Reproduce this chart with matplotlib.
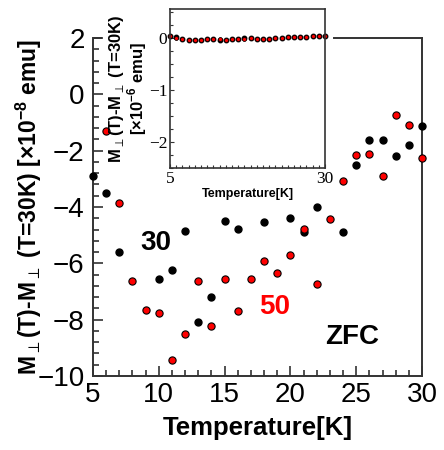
import matplotlib
matplotlib.use('Agg')
import matplotlib.pyplot as plt
from matplotlib.ticker import MultipleLocator, FixedLocator

plt.rcParams['font.family'] = ['Liberation Sans', 'DejaVu Sans']
plt.rcParams['mathtext.fontset'] = 'custom'
plt.rcParams['mathtext.rm'] = 'Liberation Sans:bold'
plt.rcParams['mathtext.bf'] = 'Liberation Sans:bold'
plt.rcParams['mathtext.fallback'] = 'stixsans'

# main panel data (x10^-8 emu)
t_30 = [5, 6, 7, 10, 11, 12, 13, 14, 15, 16, 18, 20, 21, 22, 24, 25, 26, 27, 28, 29, 30]
m_30 = [-2.89, -3.50, -5.61, -6.56, -6.25, -4.85, -8.10, -7.20, -4.50, -4.77, -4.55,
        -4.38, -4.88, -3.99, -4.90, -2.50, -1.61, -1.61, -2.20, -1.79, -1.12]

t_50 = [6, 7, 8, 9, 10, 11, 12, 13, 14, 15, 16, 17, 18, 19, 20, 21, 22, 23, 24, 25,
        26, 27, 28, 29, 30]
m_50 = [-1.29, -3.87, -6.63, -7.67, -7.75, -9.43, -8.51, -6.62, -8.24, -6.56, -7.70,
        -6.57, -5.93, -6.33, -5.72, -4.77, -6.74, -4.44, -3.08, -2.15, -2.12, -2.91,
        -0.73, -1.10, -2.25]

# inset data (x10^-6 emu)
t_in = list(range(5, 31))
m_in_30 = [0.03, 0.01, -0.02, -0.04, -0.045, -0.04, -0.03, -0.03, -0.04, -0.04, -0.03,
           -0.03, -0.01, -0.01, -0.03, -0.03, -0.02, -0.01, 0.0, 0.01, 0.01, 0.02,
           0.02, 0.03, 0.03, 0.03]
m_in_50 = [0.03, 0.0, -0.02, -0.04, -0.04, -0.04, -0.03, -0.03, -0.035, -0.04, -0.03,
           -0.025, -0.02, -0.01, -0.03, -0.03, -0.02, -0.01, 0.0, 0.01, 0.01, 0.02,
           0.02, 0.025, 0.03, 0.03]

spine_col = '#333333'

fig = plt.figure(figsize=(4.44, 4.5), dpi=100)
ax = fig.add_axes([0.2095, 0.1644, 0.741, 0.7512])

ax.plot(t_30, m_30, 'o', color='black', markersize=5, clip_on=False, zorder=3)
ax.plot(t_50, m_50, 'o', color='red', markeredgecolor='black', markeredgewidth=0.8,
        markersize=5.2, clip_on=False, zorder=4)

ax.set_xlim(5, 30)
ax.set_ylim(-10, 2)
ax.xaxis.set_major_locator(MultipleLocator(5))
ax.xaxis.set_minor_locator(MultipleLocator(1))
ax.yaxis.set_major_locator(MultipleLocator(2))
ax.yaxis.set_minor_locator(MultipleLocator(0.4))
ax.tick_params(which='both', direction='in', top=False, right=False,
               color=spine_col, width=1.2)
ax.tick_params(which='major', length=7, labelsize=20, pad=4)
ax.tick_params(axis='y', which='major', pad=6)
ax.tick_params(which='minor', length=4)
for s in ax.spines.values():
    s.set_color(spine_col)
    s.set_linewidth(1.4)
ax.spines['top'].set_bounds(23.3, 30)
ax.plot([5, 5.66], [2, 2], color=spine_col, linewidth=1.4, clip_on=False,
        solid_capstyle='butt')

ax.set_xlabel('Temperature[K]', fontsize=18.5, fontweight='bold', labelpad=6)
ax.set_ylabel(r'M$_\perp$(T)-M$_\perp$ (T=30K) [×10$^{-8}$ emu]',
              fontsize=16.5, fontweight='bold')
ax.yaxis.set_label_coords(-0.15, 0.5)

ax.text(9.8, -5.28, '30', fontsize=20, fontweight='bold', color='black',
        ha='center', va='center')
ax.text(18.8, -7.55, '50', fontsize=20, fontweight='bold', color='red',
        ha='center', va='center')
ax.text(24.7, -8.61, 'ZFC', fontsize=20, fontweight='bold', color='black',
        ha='center', va='center')

# inset
ins = fig.add_axes([0.383, 0.627, 0.349, 0.353])
ins.plot(t_in, m_in_30, 'o', color='black', markersize=3.2, clip_on=False)
ins.plot(t_in, m_in_50, 'o', color='red', markeredgecolor='black',
         markeredgewidth=0.5, markersize=2.8, clip_on=False)
ins.set_xlim(5, 30)
ins.set_ylim(-2.5, 0.55)
ins.xaxis.set_major_locator(FixedLocator([5, 30]))
ins.xaxis.set_minor_locator(MultipleLocator(1))
ins.yaxis.set_major_locator(MultipleLocator(1))
ins.yaxis.set_minor_locator(MultipleLocator(0.25))
ins.tick_params(which='both', direction='in', top=False, right=False,
                color=spine_col, width=0.8)
ins.tick_params(which='major', length=3, labelsize=12.5, pad=2)
ins.tick_params(which='minor', length=2.5)
for lab in ins.get_xticklabels() + ins.get_yticklabels():
    lab.set_family(['Liberation Serif', 'DejaVu Serif'])
for s in ins.spines.values():
    s.set_color(spine_col)
    s.set_linewidth(1.2)
ins.set_xlabel('Temperature[K]', fontsize=9, fontweight='bold', labelpad=1)
ins.set_ylabel('M$_\\perp$(T)-M$_\\perp$ (T=30K)\n[×10$^{-6}$ emu]',
               fontsize=12, fontweight='bold', linespacing=1.0)
ins.yaxis.set_label_coords(-0.135, 0.5)

fig.savefig('out.png', dpi=100, facecolor='white')
